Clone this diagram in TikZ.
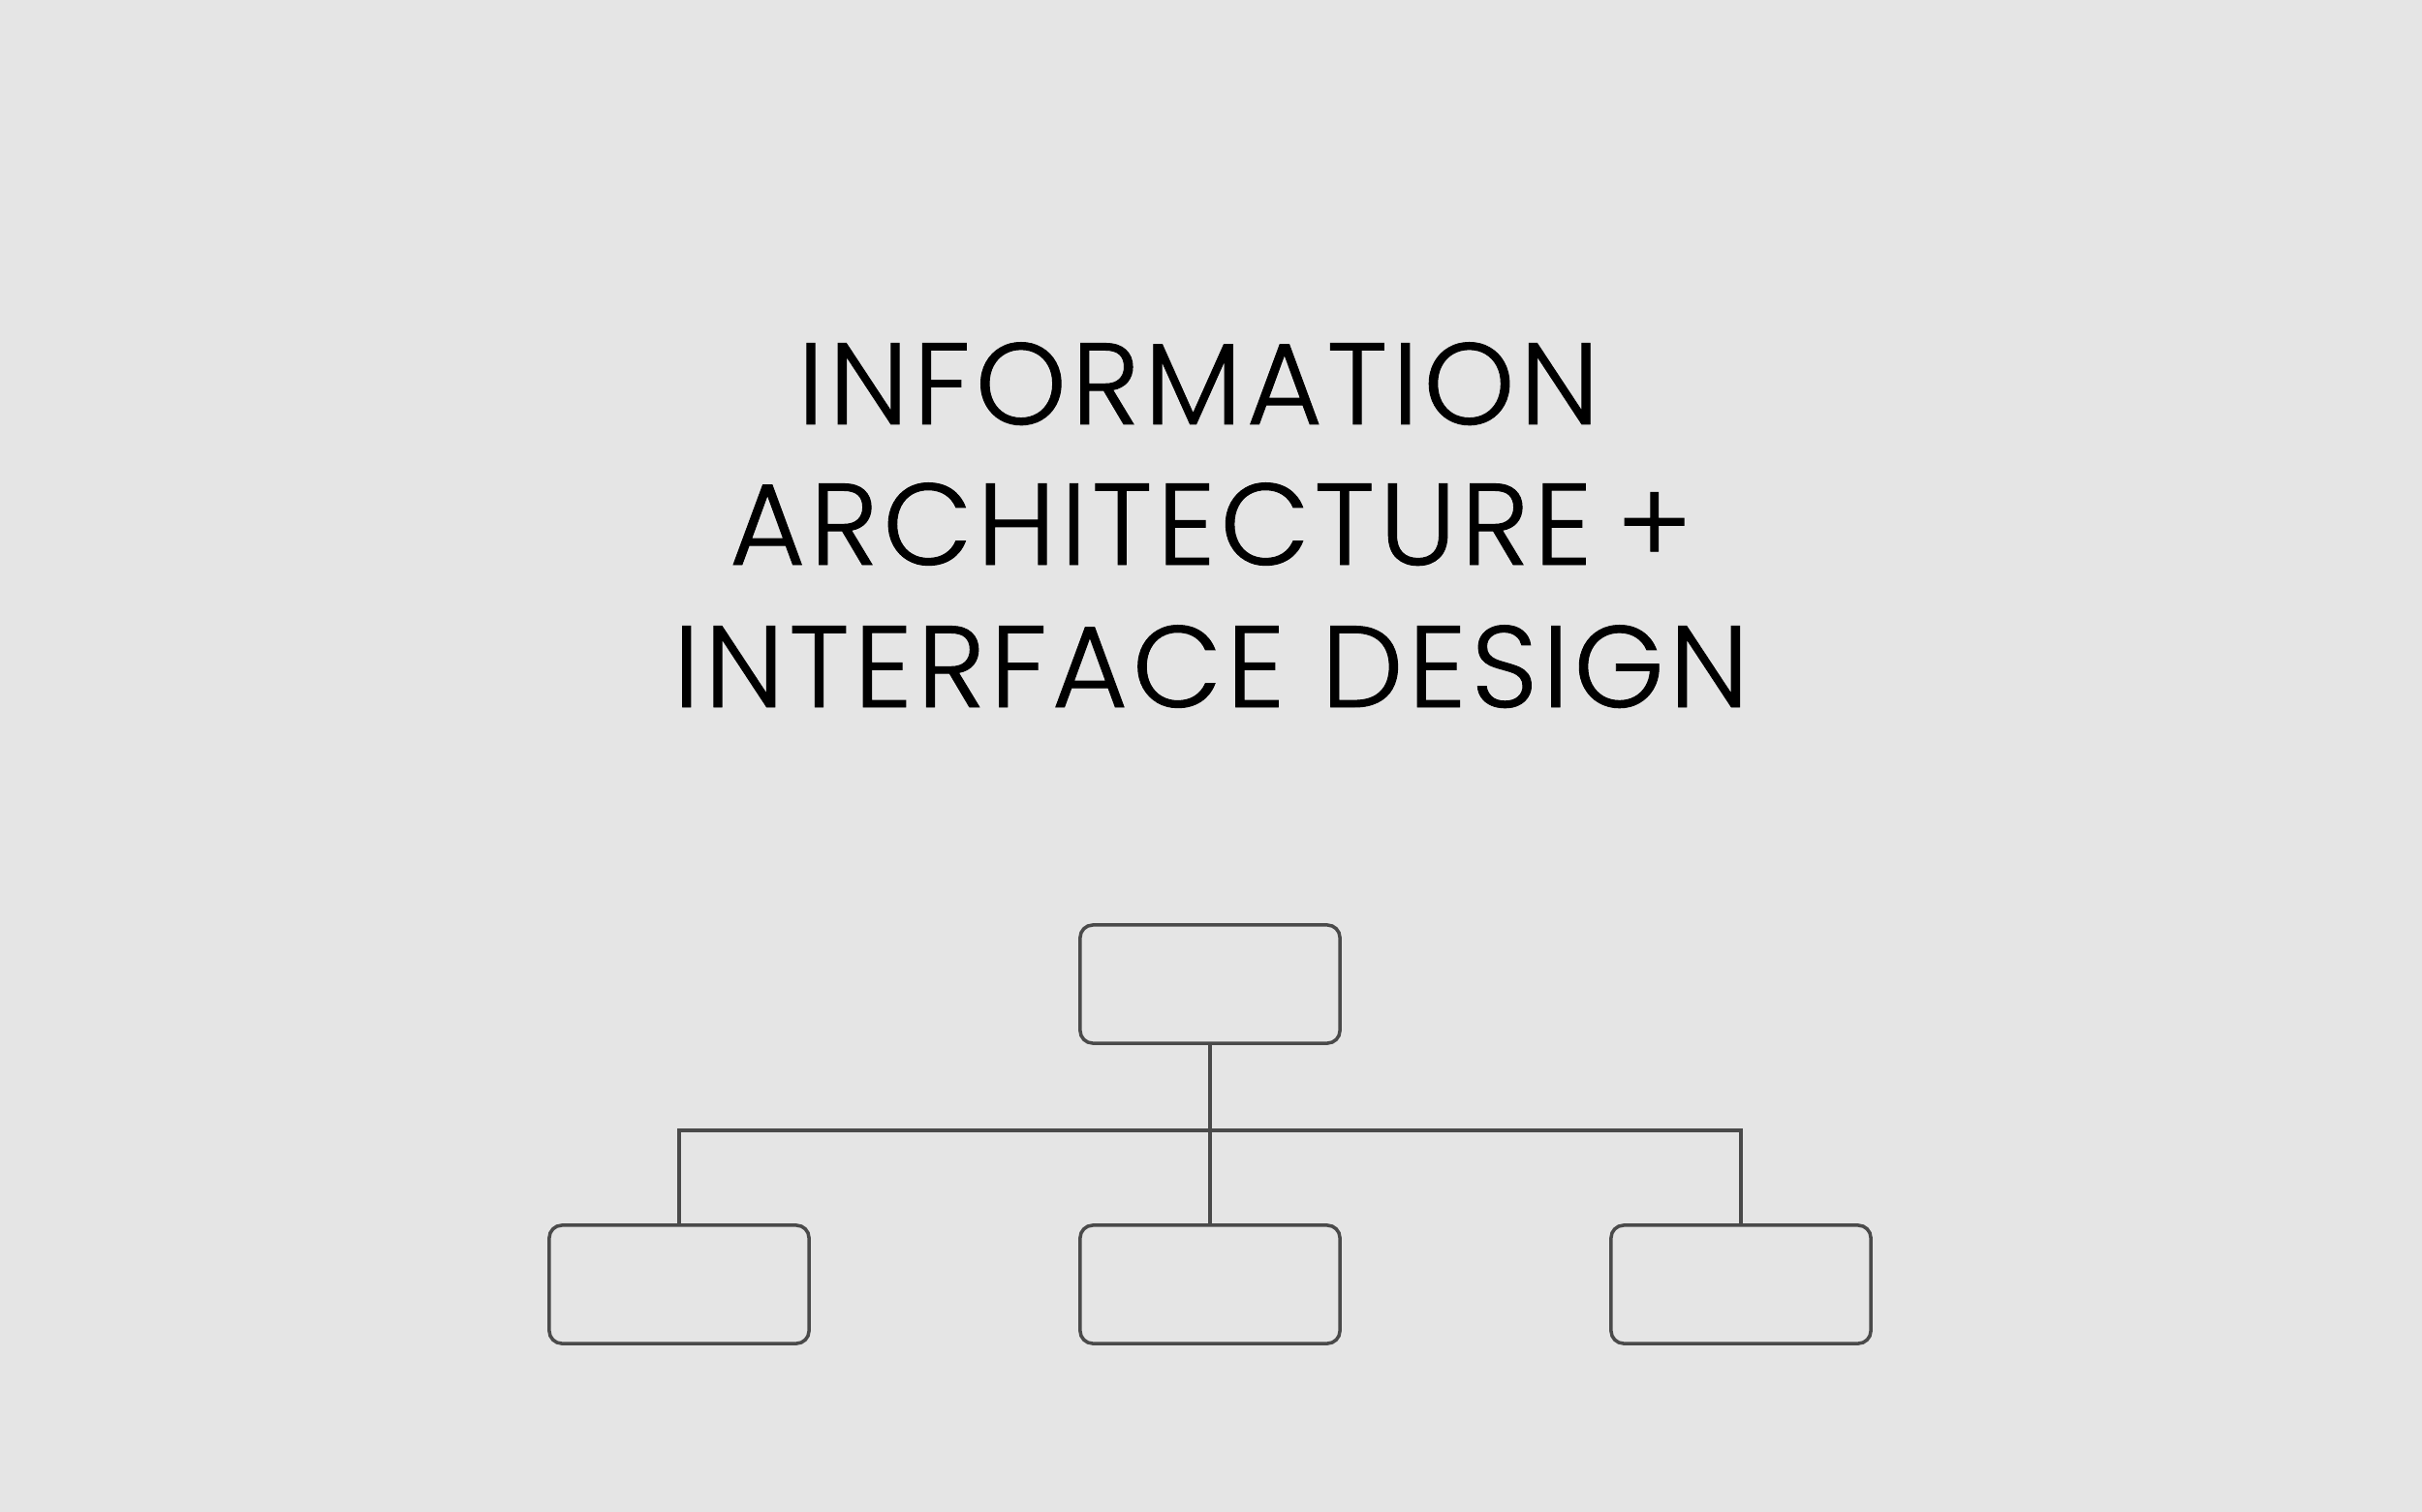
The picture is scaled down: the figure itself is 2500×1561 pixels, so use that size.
\documentclass[tikz,border=0pt]{standalone}
\usepackage{fontspec}
\setmainfont{Poppins Light}[LetterSpace=4.2, FakeBold=0.8]
\definecolor{bgcolor}{HTML}{E5E5E5}
\definecolor{linecolor}{HTML}{4A4A4A}

\tikzstyle{title} = [font=\fontsize{34}{40}\selectfont, anchor=base, inner sep=0pt, text=black]
\tikzstyle{box} = [draw=linecolor, line width=1pt, rounded corners=0.13cm, minimum width=2.68cm, minimum height=1.22cm, inner sep=0pt]
\tikzstyle{link} = [draw=linecolor, line width=1pt, -]

\begin{document}
\begin{tikzpicture}[x=0.01cm, y=-0.01cm]
    %% background
    \fill[bgcolor] (0,0) rectangle (2500,1561);
    \useasboundingbox (0,0) rectangle (2500,1561);
    %% title lines
    \foreach \linename/\x/\y/\words in {
      lineone/1237/438/INFORMATION,
      linetwo/1250/583/ARCHITECTURE\kern-3.6pt{} +,
      linethree/1250/730/INTERFACE DESIGN}
    {
      \node[title] (\linename) at (\x,\y) {\words};
    }
    %% boxes
    \node[box] (root) at (1249,1016) {};
    \foreach \nodename/\x in {
      left/701, middle/1249, right/1797}
    {
      \node[box] (\nodename) at (\x,1326) {};
    }
    %% connectors
    \coordinate (bar) at (1249,1167);
    \path[link] (root.south) -- (middle.north);
    \foreach \endnode in {left, right}
    {
      \path[link] (bar) -| (\endnode.north);
    };
\end{tikzpicture}
\end{document}
